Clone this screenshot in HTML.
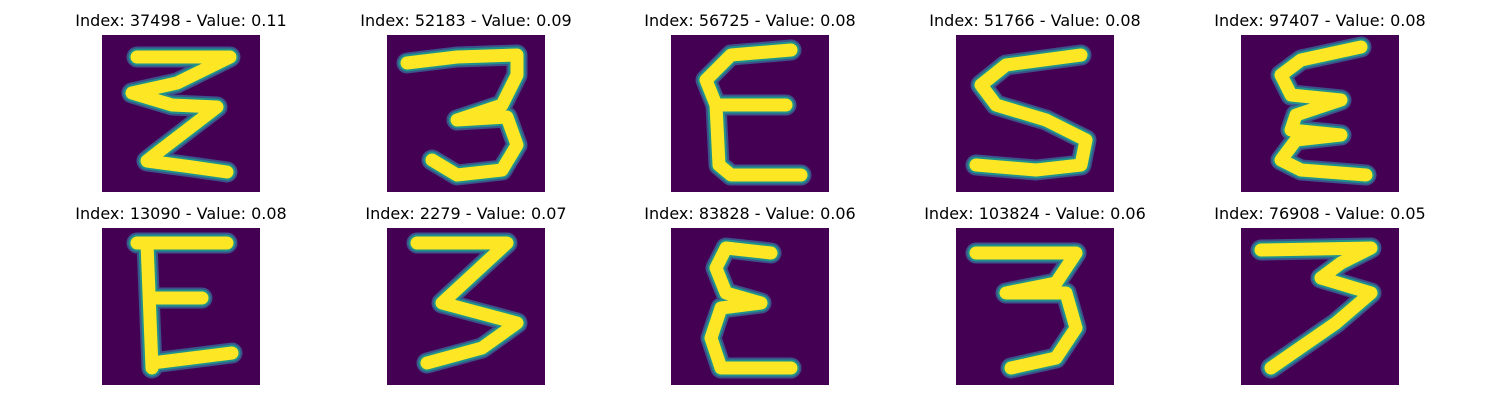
<!DOCTYPE html>
<html><head><meta charset="utf-8">
<style>
html,body{margin:0;padding:0;background:#fff;width:1500px;height:400px;overflow:hidden}
.t{position:absolute;font-family:"DejaVu Sans","Liberation Sans",sans-serif;font-size:16px;color:#000;text-align:center;width:300px;white-space:nowrap}
svg{position:absolute}
</style></head>
<body>
<div id="root"></div>
<script>
const titles=["Index: 37498 - Value: 0.11","Index: 52183 - Value: 0.09","Index: 56725 - Value: 0.08","Index: 51766 - Value: 0.08","Index: 97407 - Value: 0.08",
"Index: 13090 - Value: 0.08","Index: 2279 - Value: 0.07","Index: 83828 - Value: 0.06","Index: 103824 - Value: 0.06","Index: 76908 - Value: 0.05"];
const strokes=[
 [[[35,22],[128,22],[75,48],[30,58],[70,70],[115,72],[55,118],[45,126],[90,132],[125,137]]],
 [[[20,28],[70,22],[130,20],[130,40],[115,70],[70,85],[120,82],[130,110],[115,135],[70,140],[45,125]]],
 [[[120,15],[60,20],[35,45],[45,70],[115,70]],[[45,70],[48,130],[60,140],[130,140]]],
 [[[125,20],[50,30],[25,50],[40,70],[90,85],[130,105],[125,130],[80,135],[20,130]]],
 [[[120,12],[60,25],[40,40],[50,60],[100,65],[55,80],[50,95],[100,100],[55,105],[40,125],[60,135],[125,140]]],
 [[[35,15],[125,15]],[[45,15],[50,140]],[[50,70],[100,70]],[[50,135],[130,125]]],
 [[[30,15],[120,15],[55,75],[130,95],[95,120],[40,135]]],
 [[[100,25],[55,20],[45,40],[55,65],[90,75],[50,80],[40,110],[50,140],[120,140]]],
 [[[20,25],[120,25],[100,55],[50,65],[110,65],[120,100],[100,130],[55,140]]],
 [[[20,22],[130,20],[100,35],[80,50],[130,65],[95,95],[30,140]]]
];
const root=document.getElementById('root');
const colX=[102,387,671,956,1241], rowY=[35,228];
const NS="http://www.w3.org/2000/svg";
titles.forEach((t,i)=>{
 const x=colX[i%5], y=rowY[Math.floor(i/5)];
 const d=document.createElement('div');
 d.className='t';
 
 
 d.style.left=(x+79-150)+'px'; d.style.top=(y-24)+'px';
 d.textContent=t; root.appendChild(d);
 const s=document.createElementNS(NS,'svg');
 
 
 s.setAttribute('width',158); s.setAttribute('height',157);
 s.style.left=x+'px'; s.style.top=y+'px';
 const r=document.createElementNS(NS,'rect');
 r.setAttribute('width',158);r.setAttribute('height',157);r.setAttribute('fill','#440154');
 s.appendChild(r);
 [['#3b528b',21],['#21918c',17],['#fde725',13]].forEach(([c,w])=>{
  strokes[i].forEach(pts=>{
   const p=document.createElementNS(NS,'polyline');
   
   
   p.setAttribute('points',pts.map(q=>q.join(',')).join(' '));
   p.setAttribute('fill','none');p.setAttribute('stroke',c);p.setAttribute('stroke-width',w);
   p.setAttribute('stroke-linecap','round');p.setAttribute('stroke-linejoin','round');
   s.appendChild(p);
  });
 });
 root.appendChild(s);
});
</script>
</body></html>
